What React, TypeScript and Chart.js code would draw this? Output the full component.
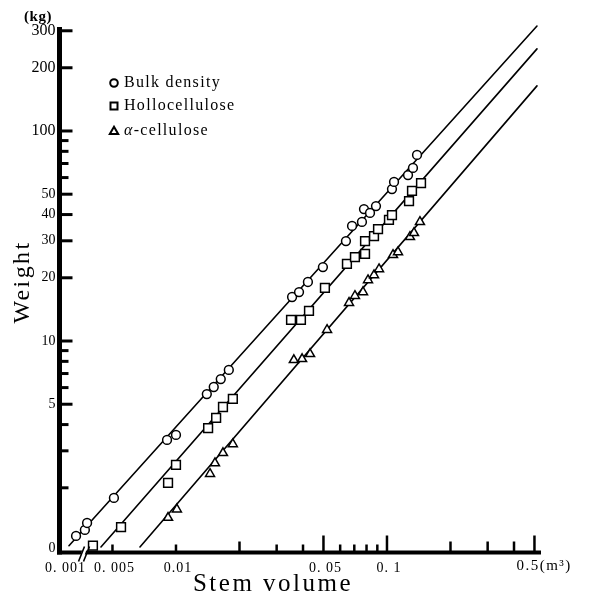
import { useEffect, useRef } from "react";
import { Chart, registerables } from "chart.js";

Chart.register(...registerables);

// ---- data ----
const seriesNames = ["Bulk density", "Hollocellulose", "-cellulose"];
const alphaPrefix = "α";

const bulkX = [0.00336, 0.0037, 0.00379, 0.00508, 0.00907, 0.01, 0.014, 0.0151, 0.0163, 0.0178, 0.0355, 0.0383, 0.0422, 0.0497, 0.0639, 0.0683, 0.0761, 0.0778, 0.0831, 0.0887, 0.1056, 0.108, 0.1258, 0.1328, 0.1388];
const bulkY = [1.18, 1.26, 1.36, 1.79, 3.38, 3.57, 5.59, 6.04, 6.59, 7.28, 16.2, 17.1, 19.1, 22.5, 29.9, 35.3, 36.9, 42.5, 40.7, 43.9, 52.9, 57.2, 61.7, 66.7, 76.9];

const holloX = [0.00404, 0.00549, 0.00917, 0.01, 0.0142, 0.0155, 0.0167, 0.0186, 0.0351, 0.0391, 0.0427, 0.0508, 0.0646, 0.0705, 0.0787, 0.0787, 0.0868, 0.0907, 0.1022, 0.1056, 0.1272, 0.1314, 0.145];
const holloY = [1.06, 1.3, 2.11, 2.57, 3.85, 4.3, 4.85, 5.3, 12.6, 12.6, 13.9, 17.9, 23.3, 25.1, 26.0, 29.9, 31.6, 34.1, 37.7, 39.8, 46.4, 51.8, 56.5];

const alphaX = [0.00917, 0.0101, 0.0145, 0.0153, 0.0167, 0.0186, 0.0362, 0.0396, 0.0432, 0.052, 0.0661, 0.0705, 0.077, 0.0813, 0.0868, 0.0917, 0.1068, 0.1128, 0.1285, 0.1343, 0.1433];
const alphaY = [1.44, 1.58, 2.33, 2.62, 2.93, 3.23, 8.12, 8.21, 8.67, 11.3, 15.2, 16.4, 17.1, 19.5, 20.6, 22.0, 25.7, 26.5, 31.3, 32.7, 36.9];

// fitted regression lines (end points)
const fitBulkX = [0.00311, 0.514];
const fitBulkY = [1.06, 316];
const fitHolloX = [0.00441, 0.514];
const fitHolloY = [1.045, 246];
const fitAlphaX = [0.00675, 0.514];
const fitAlphaY = [1.045, 164];

// axes
const xMin = 0.002805;
const xMax = 0.537;
const yMin = 0.984;
const yMax = 319.6;

const xTickValues = [0.005, 0.01, 0.02, 0.03, 0.04, 0.05, 0.06, 0.07, 0.08, 0.09, 0.1, 0.2, 0.3, 0.4, 0.5];
const xTickLabels = ["0. 005", "0.01", "", "", "", "0. 05", "", "", "", "", "0. 1", "", "", "", "0.5(m³)"];
const xBreakLabel = "0. 001";

const yTickValues = [1, 2, 3, 4, 5, 6, 7, 8, 9, 10, 20, 30, 40, 50, 60, 70, 80, 90, 100, 200, 300];
const yTickLabels = ["0", "", "", "", "5", "", "", "", "", "10", "20", "30", "40", "50", "", "", "", "", "100", "200", "300"];

const xTitle = "Stem volume";
const yTitle = "Weight";
const yUnit = "(kg)";

const SERIF = "'Liberation Serif', 'DejaVu Serif', serif";

function zip(xs: number[], ys: number[]) {
  return xs.map((x, i) => ({ x, y: ys[i] }));
}

function drawMarker(ctx: CanvasRenderingContext2D, kind: string, cx: number, cy: number, s: number) {
  ctx.beginPath();
  if (kind === "circle") {
    ctx.arc(cx, cy, s, 0, Math.PI * 2);
  } else if (kind === "rect") {
    ctx.rect(cx - s, cy - s, 2 * s, 2 * s);
  } else {
    ctx.moveTo(cx, cy - s * 1.1);
    ctx.lineTo(cx + s * 1.1, cy + s * 0.8);
    ctx.lineTo(cx - s * 1.1, cy + s * 0.8);
    ctx.closePath();
  }
  ctx.fillStyle = "#fff";
  ctx.fill();
  ctx.stroke();
}

const paperAxes = {
  id: "paperAxes",
  afterDatasetsDraw(chart: any) {
    const { ctx, chartArea } = chart;
    const xs = chart.scales.x;
    const ys = chart.scales.y;
    const left = chartArea.left;
    const bottom = chartArea.bottom;
    const right = chartArea.right;
    const top = chartArea.top;
    ctx.save();
    ctx.strokeStyle = "#000";
    ctx.fillStyle = "#000";
    ctx.lineCap = "butt";

    // y axis line
    ctx.lineWidth = 5;
    ctx.beginPath();
    ctx.moveTo(left, top + 2);
    ctx.lineTo(left, bottom + 2);
    ctx.stroke();
    // x axis line
    ctx.lineWidth = 4;
    ctx.beginPath();
    ctx.moveTo(left - 2.5, bottom);
    ctx.lineTo(right, bottom);
    ctx.stroke();

    // y ticks (inward)
    ctx.lineWidth = 3;
    yTickValues.forEach((v, i) => {
      if (v === yTickValues[0]) return;
      const py = ys.getPixelForValue(v);
      const len = yTickLabels[i] ? 11 : 7;
      ctx.beginPath();
      ctx.moveTo(left + 2, py);
      ctx.lineTo(left + 2 + len, py);
      ctx.stroke();
    });
    // y labels
    ctx.textAlign = "right";
    ctx.textBaseline = "middle";
    yTickValues.forEach((v, i) => {
      const lab = yTickLabels[i];
      if (!lab) return;
      const py = ys.getPixelForValue(v) - (i === 0 ? 3 : 0);
      ctx.font = (v >= 100 ? "16px " : "14px ") + SERIF;
      ctx.fillText(lab, left - 4, py);
    });

    // x ticks (upward)
    ctx.lineWidth = 2.5;
    xTickValues.forEach((v, i) => {
      const px = xs.getPixelForValue(v);
      let len = 7;
      if (xTickLabels[i] && v >= 0.05) len = 16;
      else if ((v >= 0.2 && v < 0.5) || v === 0.02) len = 10;
      ctx.beginPath();
      ctx.moveTo(px, bottom - 1);
      ctx.lineTo(px, bottom - 1 - len);
      ctx.stroke();
    });
    // x labels
    ctx.textBaseline = "middle";
    ctx.letterSpacing = "1px";
    xTickValues.forEach((v, i) => {
      const lab = xTickLabels[i];
      if (!lab) return;
      const px = xs.getPixelForValue(v);
      if (i === xTickValues.length - 1) {
        ctx.font = "15px " + SERIF;
        ctx.letterSpacing = "1.5px";
        ctx.textAlign = "left";
        ctx.fillText(lab, px - 18, bottom + 14);
      } else {
        ctx.font = "14px " + SERIF;
        ctx.letterSpacing = "1px";
        ctx.textAlign = "center";
        ctx.fillText(lab, px + 2, bottom + 16);
      }
    });
    ctx.font = "14px " + SERIF;
    ctx.letterSpacing = "1px";
    ctx.textAlign = "center";
    ctx.fillText(xBreakLabel, left + 6, bottom + 16);

    // axis break on x axis
    const bx = left + 20;
    ctx.fillStyle = "#fff";
    ctx.beginPath();
    ctx.moveTo(bx + 1, bottom + 3);
    ctx.lineTo(bx + 5, bottom + 3);
    ctx.lineTo(bx + 7, bottom - 3);
    ctx.lineTo(bx + 3, bottom - 3);
    ctx.closePath();
    ctx.fill();
    ctx.fillStyle = "#000";
    ctx.lineWidth = 1.6;
    ctx.beginPath();
    ctx.moveTo(bx - 1, bottom + 9);
    ctx.lineTo(bx + 5, bottom - 6);
    ctx.moveTo(bx + 4, bottom + 9);
    ctx.lineTo(bx + 10, bottom - 6);
    ctx.stroke();

    // titles
    ctx.textAlign = "center";
    ctx.textBaseline = "middle";
    ctx.font = "25px " + SERIF;
    ctx.letterSpacing = "2.5px";
    ctx.fillText(xTitle, 273, 584);

    ctx.save();
    ctx.translate(23, 282);
    ctx.rotate(-Math.PI / 2);
    ctx.font = "24px " + SERIF;
    ctx.letterSpacing = "2.4px";
    ctx.fillText(yTitle, 0, 0);
    ctx.restore();

    ctx.font = "bold 15px " + SERIF;
    ctx.letterSpacing = "0.5px";
    ctx.fillText(yUnit, 38, 17);

    // legend
    const kinds = ["circle", "rect", "triangle"];
    const ly = [83, 106, 131];
    ctx.lineWidth = 2;
    ctx.strokeStyle = "#000";
    kinds.forEach((k, i) => {
      drawMarker(ctx, k, 114, ly[i], k === "rect" ? 3.5 : 3.8);
      ctx.fillStyle = "#000";
      ctx.textAlign = "left";
      ctx.textBaseline = "middle";
      ctx.letterSpacing = "1.3px";
      let tx = 124;
      if (i === 2) {
        ctx.font = "italic 16px " + SERIF;
        ctx.fillText(alphaPrefix, tx, ly[i]);
        tx += ctx.measureText(alphaPrefix).width;
      }
      ctx.font = "16px " + SERIF;
      ctx.fillText(seriesNames[i], tx, ly[i]);
    });

    ctx.restore();
  },
};

export default function App() {
  const ref = useRef<HTMLCanvasElement>(null);

  useEffect(() => {
    if (!ref.current) return;
    const pointBase = {
      showLine: false,
      borderColor: "#000",
      backgroundColor: "#fff",
      pointBorderWidth: 1.5,
      clip: false as any,
      order: 0,
    };
    const lineBase = {
      showLine: true,
      pointRadius: 0,
      borderColor: "#000",
      borderWidth: 1.6,
      borderCapStyle: "round" as any,
      clip: false as any,
      order: 1,
    };
    const chart = new Chart(ref.current, {
      type: "scatter",
      data: {
        datasets: [
          { ...lineBase, label: "fit-bulk", data: zip(fitBulkX, fitBulkY) },
          { ...lineBase, label: "fit-hollo", data: zip(fitHolloX, fitHolloY) },
          { ...lineBase, label: "fit-alpha", data: zip(fitAlphaX, fitAlphaY) },
          { ...pointBase, label: seriesNames[0], data: zip(bulkX, bulkY), pointStyle: "circle", pointRadius: 4.4 },
          { ...pointBase, label: seriesNames[1], data: zip(holloX, holloY), pointStyle: "rect", pointRadius: 6.2 },
          { ...pointBase, label: alphaPrefix + seriesNames[2], data: zip(alphaX, alphaY), pointStyle: "triangle", pointRadius: 5.2 },
        ] as any,
      },
      options: {
        responsive: false,
        animation: false,
        devicePixelRatio: 1,
        layout: { padding: { left: 59.5, right: 48, top: 25, bottom: 44.5 } },
        scales: {
          x: { type: "logarithmic", min: xMin, max: xMax, display: false },
          y: { type: "logarithmic", min: yMin, max: yMax, display: false },
        },
        plugins: { legend: { display: false }, tooltip: { enabled: false } },
        events: [],
      },
      plugins: [paperAxes],
    });
    return () => chart.destroy();
  }, []);

  return (
    <div style={{ position: "absolute", left: 0, top: 0, width: 589, height: 597, background: "#fff" }}>
      <canvas ref={ref} width={589} height={597} style={{ display: "block" }} />
    </div>
  );
}
